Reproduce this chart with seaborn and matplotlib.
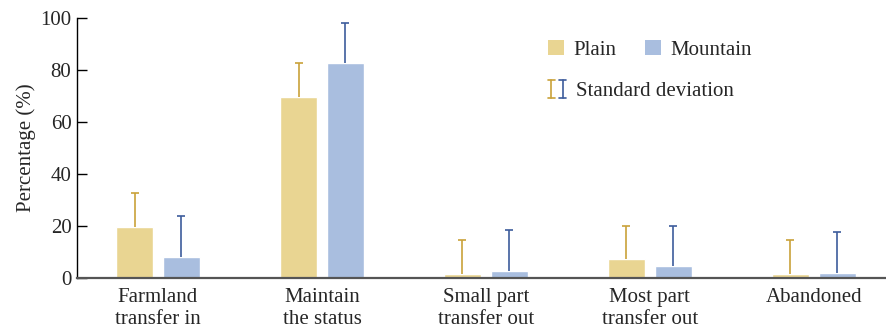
import numpy as np
import pandas as pd
import matplotlib
matplotlib.use("Agg")
import matplotlib.pyplot as plt
from matplotlib.patches import Patch
from matplotlib.lines import Line2D
from matplotlib.legend_handler import HandlerBase
import seaborn as sns

# Land-use choices of households and their mean share (%) with standard deviation
categories = ["Farmland\ntransfer in", "Maintain\nthe status", "Small part\ntransfer out",
              "Most part\ntransfer out", "Abandoned"]
plain_mean = [19.7, 69.5, 1.5, 7.2, 1.5]
plain_sd = [13.1, 13.1, 13.1, 12.8, 13.1]
mountain_mean = [8.2, 82.6, 2.8, 4.6, 1.8]
mountain_sd = [15.6, 15.6, 15.7, 15.5, 15.9]
groups = ["Plain", "Mountain"]
y_ticks = [0, 20, 40, 60, 80, 100]

bar_colors = {"Plain": "#E9D592", "Mountain": "#A9BEDF"}
err_colors = {"Plain": "#C9A23A", "Mountain": "#3D5C9C"}

df = pd.DataFrame({
    "category": categories * 2,
    "group": ["Plain"] * len(categories) + ["Mountain"] * len(categories),
    "value": plain_mean + mountain_mean,
})

sns.set_style("white")
plt.rcParams["font.family"] = ["Liberation Serif", "DejaVu Serif"]

fig = plt.figure(figsize=(8.86, 3.28), dpi=100)
ax = fig.add_axes([77 / 886, 50 / 328, (886 - 77) / 886, 260 / 328])

sns.barplot(data=df, x="category", y="value", hue="group", hue_order=groups,
            order=categories, palette=bar_colors, width=0.572, gap=0.21,
            errorbar=None, legend=False, saturation=1, ax=ax)

# upper-only standard deviation whiskers on each bar
for cont, grp, sd in zip(ax.containers, groups, [plain_sd, mountain_sd]):
    xs = [p.get_x() + p.get_width() / 2 for p in cont.patches]
    hs = [p.get_height() for p in cont.patches]
    _, caps, _ = ax.errorbar(xs, hs, yerr=[np.zeros(len(sd)), sd], fmt="none",
                             ecolor=err_colors[grp], elinewidth=1.2, capsize=2.6,
                             capthick=1.2, zorder=1)
    caps[0].remove()  # drop the cap at the bar top

ax.set_ylim(0, 100)
ax.set_xlim(-0.494, 4.44)
ax.set_yticks(y_ticks)
ax.set_yticklabels([str(t) for t in y_ticks], fontsize=15)
ax.tick_params(axis="y", direction="in", length=7, width=1, color="black", pad=4, left=True)
ax.tick_params(axis="x", length=0, pad=7, labelsize=15)
for lab in ax.get_xticklabels():
    lab.set_linespacing(1.2)
ax.set_xlabel("")
ax.set_ylabel("Percentage (%)", fontsize=15, labelpad=3)

sns.despine(ax=ax, top=True, right=True)
ax.spines["left"].set_color("black")
ax.spines["left"].set_linewidth(1.0)
ax.spines["bottom"].set_color("#555555")
ax.spines["bottom"].set_linewidth(1.6)


class SDKey:
    def __init__(self, colors):
        self.colors = colors


class SDHandler(HandlerBase):
    def create_artists(self, legend, orig_handle, xdescent, ydescent,
                       width, height, fontsize, trans):
        arts = []
        x0 = -xdescent
        y_lo = -ydescent - 0.15 * height
        y_hi = -ydescent + 1.05 * height
        cap = 2.4
        n = len(orig_handle.colors)
        step = (width - 2 * cap) / max(n - 1, 1)
        for i, c in enumerate(orig_handle.colors):
            xc = x0 + cap + step * i
            arts.append(Line2D([xc, xc], [y_lo, y_hi], color=c, lw=1.2, transform=trans))
            arts.append(Line2D([xc - cap, xc + cap], [y_lo, y_lo], color=c, lw=1.2, transform=trans))
            arts.append(Line2D([xc - cap, xc + cap], [y_hi, y_hi], color=c, lw=1.2, transform=trans))
        return arts


fig.legend(handles=[Patch(facecolor=bar_colors[g], edgecolor="none", label=g) for g in groups],
           loc="center left", bbox_to_anchor=(548 / 886, 1 - 50 / 328),
           ncol=2, frameon=False, fontsize=15, borderpad=0, borderaxespad=0,
           handlelength=0.75, handleheight=0.7, handletextpad=0.45,
           columnspacing=1.4)
fig.legend(handles=[SDKey([err_colors["Plain"], err_colors["Mountain"]])],
           labels=["Standard deviation"], handler_map={SDKey: SDHandler()},
           loc="center left", bbox_to_anchor=(548 / 886, 1 - 91 / 328),
           frameon=False, fontsize=15, borderpad=0, borderaxespad=0,
           handlelength=0.87, handleheight=0.7, handletextpad=0.45)

fig.savefig("out.png", dpi=100)
